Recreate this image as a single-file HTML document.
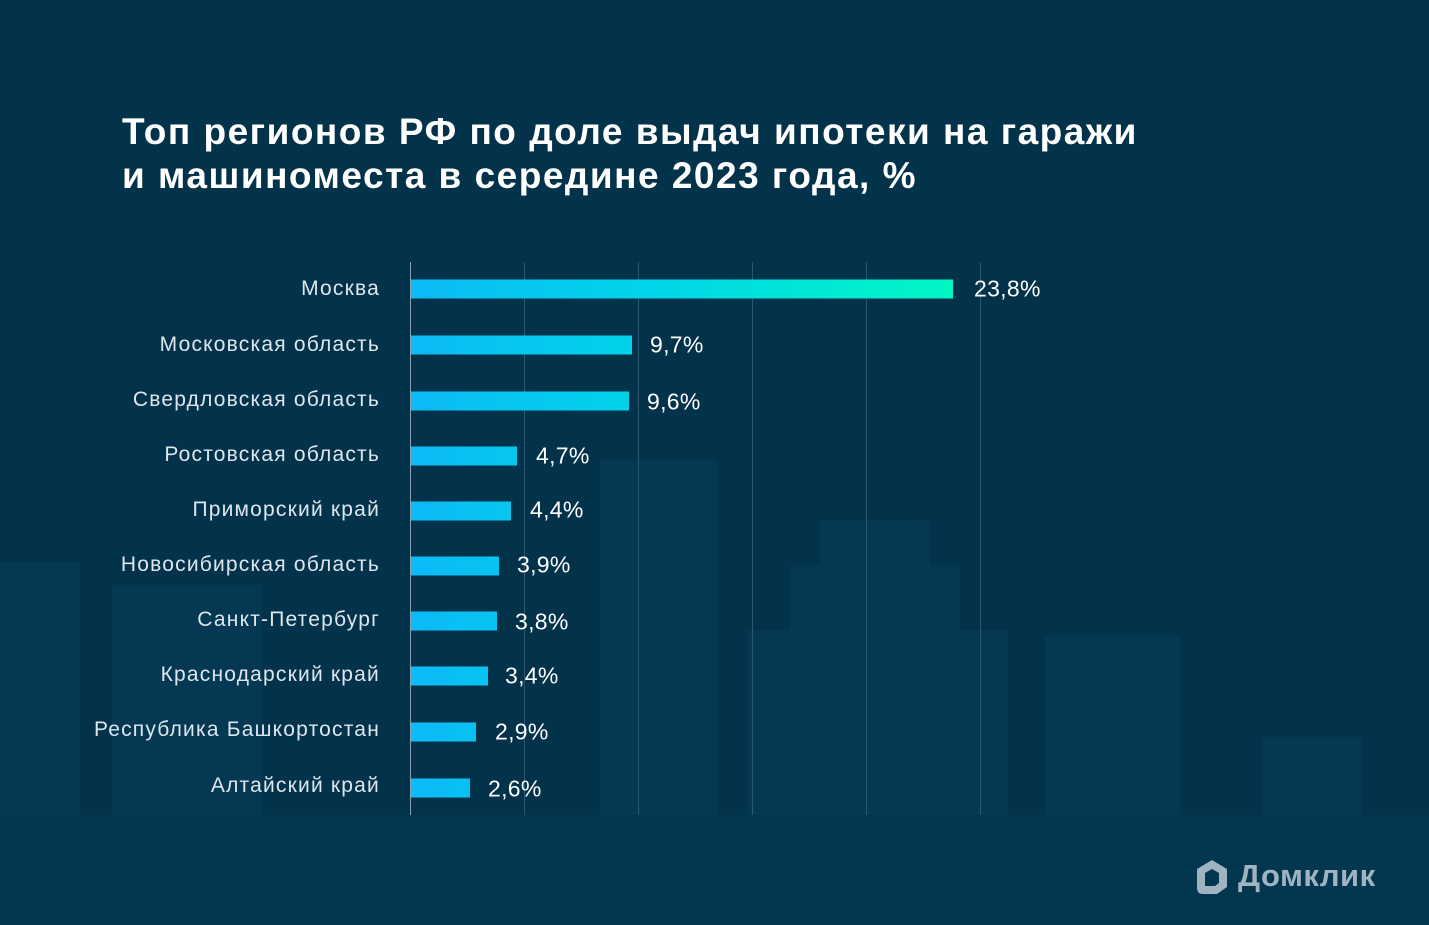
<!DOCTYPE html>
<html><head><meta charset="utf-8"><style>
body{margin:0;width:1429px;height:925px;overflow:hidden;background:#03334b;font-family:"Liberation Sans",sans-serif;position:relative}
.bg{position:absolute;background:#04395328;background:#043853}
.t{position:absolute;left:122px;top:110px;color:#fff;font-weight:bold;font-size:37px;line-height:44px;letter-spacing:1.5px}
.g{position:absolute;top:262px;height:553px;width:1px;background:#2a5670}
.lab{position:absolute;right:1049px;color:#dde6ec;font-size:21px;letter-spacing:1.2px;white-space:nowrap;transform:translateY(-50%)}
.bar{position:absolute;left:411px;height:19px;background:linear-gradient(90deg,#0bbaf6 0px,#00d6e8 250px,#00f7c4 542px);background-size:542px 19px;transform:translateY(-50%)}
.v{position:absolute;color:#fff;font-size:23px;letter-spacing:0.3px;transform:translateY(-50%)}
</style></head><body>
<div class="bg" style="left:0;top:562px;width:80px;height:363px"></div>
<div class="bg" style="left:112px;top:585px;width:150px;height:340px"></div>
<div class="bg" style="left:600px;top:460px;width:118px;height:465px"></div>
<div class="bg" style="left:748px;top:630px;width:260px;height:295px"></div>
<div class="bg" style="left:790px;top:565px;width:170px;height:360px"></div>
<div class="bg" style="left:820px;top:520px;width:110px;height:405px"></div>
<div class="bg" style="left:1045px;top:635px;width:135px;height:290px"></div>
<div class="bg" style="left:1262px;top:737px;width:100px;height:188px"></div>
<div class="bg" style="left:0;top:815px;width:1429px;height:110px;background:#03364f"></div>
<div class="t">Топ регионов РФ по доле выдач ипотеки на гаражи<br>и машиноместа в середине 2023 года, %</div>
<div class="g" style="left:410px;background:#8aa2b2"></div>
<div class="g" style="left:524px"></div><div class="g" style="left:638px"></div>
<div class="g" style="left:752px"></div><div class="g" style="left:866px"></div><div class="g" style="left:980px"></div>

<div class="lab" style="top:289px">Москва</div><div class="bar" style="top:289px;width:542px"></div><div class="v" style="top:289px;left:974px">23,8%</div>
<div class="lab" style="top:345px">Московская область</div><div class="bar" style="top:345px;width:221px"></div><div class="v" style="top:345px;left:650px">9,7%</div>
<div class="lab" style="top:400px">Свердловская область</div><div class="bar" style="top:401px;width:218px"></div><div class="v" style="top:402px;left:647px">9,6%</div>
<div class="lab" style="top:455px">Ростовская область</div><div class="bar" style="top:456px;width:106px"></div><div class="v" style="top:456px;left:536px">4,7%</div>
<div class="lab" style="top:510px">Приморский край</div><div class="bar" style="top:511px;width:100px"></div><div class="v" style="top:510px;left:530px">4,4%</div>
<div class="lab" style="top:565px">Новосибирская область</div><div class="bar" style="top:566px;width:88px"></div><div class="v" style="top:565px;left:517px">3,9%</div>
<div class="lab" style="top:620px">Санкт-Петербург</div><div class="bar" style="top:621px;width:86px"></div><div class="v" style="top:622px;left:515px">3,8%</div>
<div class="lab" style="top:675px">Краснодарский край</div><div class="bar" style="top:676px;width:77px"></div><div class="v" style="top:676px;left:505px">3,4%</div>
<div class="lab" style="top:730px">Республика Башкортостан</div><div class="bar" style="top:732px;width:65px"></div><div class="v" style="top:732px;left:495px">2,9%</div>
<div class="lab" style="top:786px">Алтайский край</div><div class="bar" style="top:788px;width:59px"></div><div class="v" style="top:789px;left:488px">2,6%</div>

<svg style="position:absolute;left:1193px;top:857px" width="38" height="40" viewBox="0 0 38 40"><path d="M19 3 L34 12 L34 30 L24 37 L10 37 Q4 37 4 31 L4 12 Z M12 16 L12 29 L22 29 L26 26 L26 16 L19 12 Z" fill="#9fb3c1" fill-rule="evenodd"/></svg>
<div style="position:absolute;left:1238px;top:858px;color:#9fb3c1;font-weight:bold;font-size:31px;letter-spacing:0.5px">Домклик</div>
</body></html>
